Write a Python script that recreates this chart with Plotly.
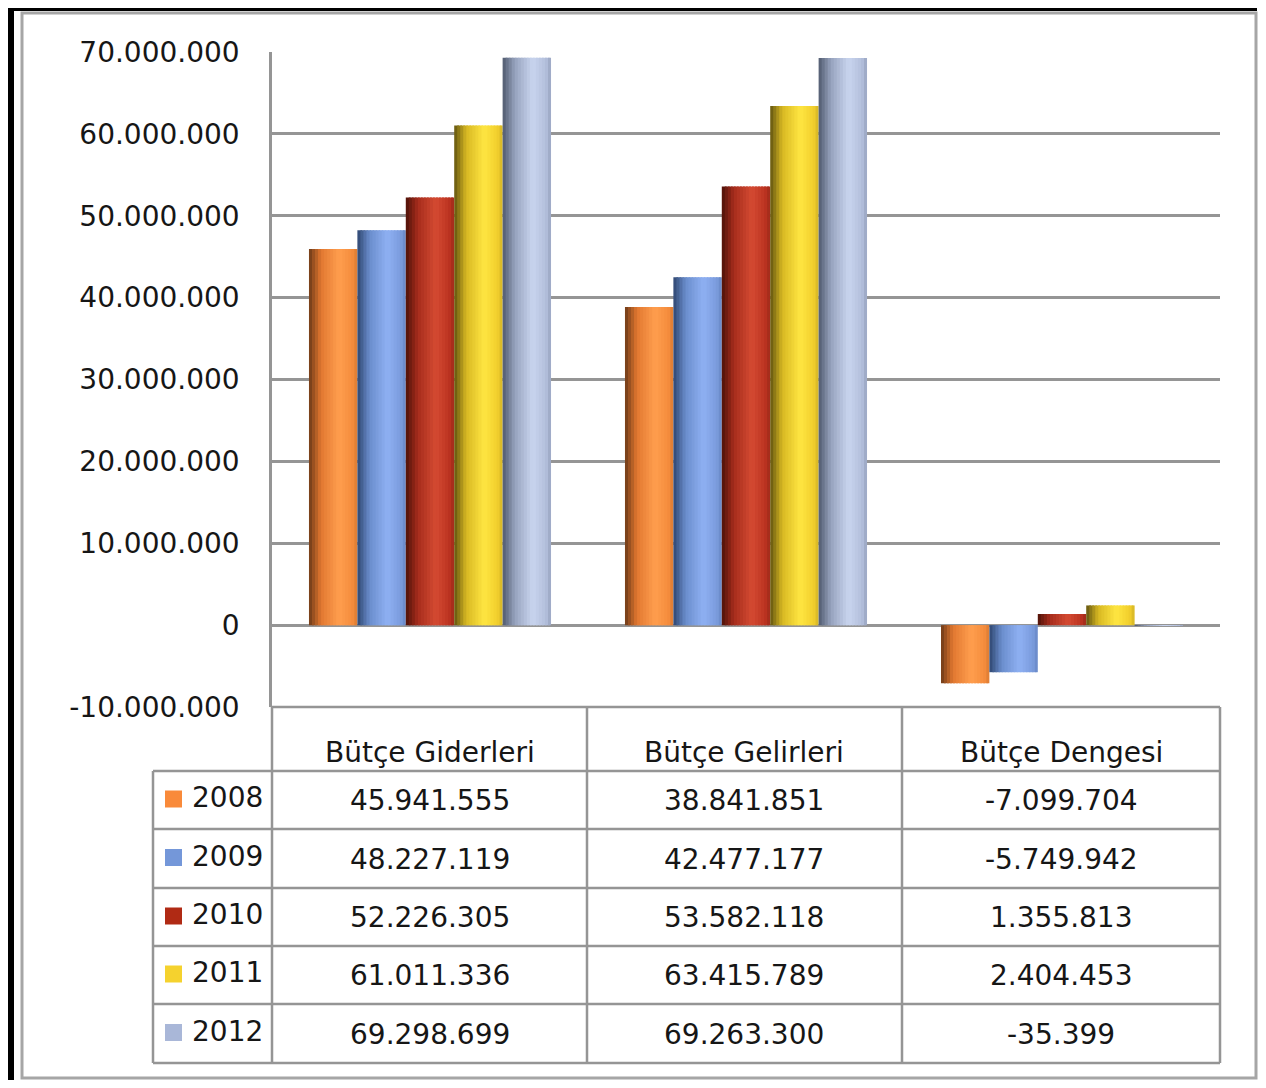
import plotly.graph_objects as go

# ---------------- data ----------------
categories = ["Bütçe Giderleri", "Bütçe Gelirleri", "Bütçe Dengesi"]
years = ["2008", "2009", "2010", "2011", "2012"]
v2008 = [45941555, 38841851, -7099704]
v2009 = [48227119, 42477177, -5749942]
v2010 = [52226305, 53582118, 1355813]
v2011 = [61011336, 63415789, 2404453]
v2012 = [69298699, 69263300, -35399]
series = [v2008, v2009, v2010, v2011, v2012]
tick_vals = [-10000000, 0, 10000000, 20000000, 30000000, 40000000, 50000000, 60000000, 70000000]
tick_text = ["-10.000.000", "0", "10.000.000", "20.000.000", "30.000.000",
             "40.000.000", "50.000.000", "60.000.000", "70.000.000"]

# ---------------- styles ----------------
OFF = 8                      # browser body margin
W, H = 1266 - 2 * OFF, 1088 - 2 * OFF
FONT = "DejaVu Sans"
FS = 28
TXT = "#161616"
GRID = "#959595"
swatch = ["#F98A3A", "#7497D9", "#B02A14", "#F5D22E", "#A9B7D8"]
grads = [
    [(0.0, "#6e3a18"), (0.25, "#e27830"), (0.62, "#ff9e4e"), (0.9, "#f58c3c"), (1.0, "#d97a34")],
    [(0.0, "#2e4670"), (0.25, "#6a8dcc"), (0.62, "#8fb1f3"), (0.9, "#7a9bdc"), (1.0, "#6787c4")],
    [(0.0, "#4e1208"), (0.25, "#a62c1c"), (0.62, "#d44a32"), (0.9, "#bb3320"), (1.0, "#9e2a1a")],
    [(0.0, "#625510"), (0.25, "#d8b822"), (0.62, "#ffe642"), (0.9, "#f1ce2c"), (1.0, "#d2b426")],
    [(0.0, "#505a6e"), (0.25, "#96a2bd"), (0.62, "#c9d5ef"), (0.9, "#b2bedb"), (1.0, "#98a4c0")],
]


def hex2rgb(h):
    h = h.lstrip("#")
    return [int(h[i:i + 2], 16) for i in (0, 2, 4)]


def interp(stops, t):
    for (t0, c0), (t1, c1) in zip(stops[:-1], stops[1:]):
        if t <= t1:
            f = (t - t0) / (t1 - t0) if t1 > t0 else 0
            a, b = hex2rgb(c0), hex2rgb(c1)
            r = [round(a[j] + (b[j] - a[j]) * f) for j in range(3)]
            return f"rgb({r[0]},{r[1]},{r[2]})"
    return stops[-1][1]


def fx(x):
    return (x - OFF) / W


def fy(y):
    return 1 - (y - OFF) / H


PL, PR, PT, PB = 272, 1220, 52, 707

fig = go.Figure()

xs = list(range(len(categories)))
group = 0.766
bw = group / len(years)
N = 16
for i, vals in enumerate(series):
    for k in range(N):
        t = (k + 0.5) / N
        fig.add_trace(go.Bar(
            x=xs, y=vals,
            offset=-group / 2 + i * bw + k * bw / N,
            width=bw / N * (1.6 if k < N - 1 else 1.0),
            marker=dict(color=interp(grads[i], t), line=dict(width=0)),
            showlegend=False, hoverinfo="skip",
        ))

fig.update_layout(
    width=W, height=H, autosize=False,
    margin=dict(l=0, r=0, t=0, b=0, pad=0, autoexpand=False),
    paper_bgcolor="white", plot_bgcolor="white",
    barmode="overlay",
    font=dict(family=FONT, size=FS, color=TXT),
    xaxis=dict(domain=[fx(PL), fx(PR)], range=[-0.5, 2.5], showticklabels=False,
               showgrid=False, zeroline=False, showline=False, fixedrange=True, automargin=False),
    yaxis=dict(domain=[fy(PB), fy(PT)], range=[-10000000, 70000000],
               tickvals=tick_vals, ticktext=tick_text, ticklabelstandoff=24,
               tickfont=dict(family=FONT, size=FS, color=TXT), automargin=False,
               showgrid=True, gridcolor=GRID, gridwidth=2.5,
               zeroline=True, zerolinecolor=GRID, zerolinewidth=2.5,
               showline=True, linecolor=GRID, linewidth=2.5, fixedrange=True),
)

shapes = []
shapes.append(dict(type="rect", xref="paper", yref="paper", x0=fx(OFF), x1=fx(14), y0=fy(H + OFF), y1=fy(OFF),
                   fillcolor="black", line=dict(width=0), layer="above"))
shapes.append(dict(type="rect", xref="paper", yref="paper", x0=fx(OFF), x1=fx(1257), y0=fy(OFF + 3), y1=fy(OFF),
                   fillcolor="black", line=dict(width=0), layer="above"))
shapes.append(dict(type="rect", xref="paper", yref="paper", x0=fx(22), x1=fx(1256), y0=fy(1078), y1=fy(13),
                   line=dict(color="#a6a6a6", width=3), layer="above"))


def hline(x0, x1, y):
    shapes.append(dict(type="line", xref="paper", yref="paper", x0=fx(x0), x1=fx(x1), y0=fy(y), y1=fy(y),
                       line=dict(color=GRID, width=2.5), layer="above"))


def vline(x, y0, y1):
    shapes.append(dict(type="line", xref="paper", yref="paper", x0=fx(x), x1=fx(x), y0=fy(y0), y1=fy(y1),
                       line=dict(color=GRID, width=2.5), layer="above"))


row_lines = [771, 829, 888, 946, 1004, 1063]
col_lines = [272, 587, 902, 1220]
hline(272, 1220, 707)
for y in row_lines:
    hline(153, 1220, y)
for x in col_lines:
    vline(x, 707, 1063)
vline(153, 771, 1063)

annotations = []
col_centers = [(col_lines[j] + col_lines[j + 1]) / 2 for j in range(3)]
for j, c in enumerate(categories):
    annotations.append(dict(xref="paper", yref="paper", x=fx(col_centers[j]), y=fy(752), text=c,
                            showarrow=False, xanchor="center", yanchor="middle",
                            font=dict(family=FONT, size=FS, color=TXT)))


def fmt(v):
    return f"{v:,}".replace(",", ".")


for i, (yr, vals) in enumerate(zip(years, series)):
    yc = (row_lines[i] + row_lines[i + 1]) / 2 + 0.5
    for j, v in enumerate(vals):
        annotations.append(dict(xref="paper", yref="paper", x=fx(col_centers[j]), y=fy(yc), text=fmt(v),
                                showarrow=False, xanchor="center", yanchor="middle",
                                font=dict(family=FONT, size=FS, color=TXT)))
    annotations.append(dict(xref="paper", yref="paper", x=fx(190), y=fy(yc - 3), text=yr,
                            showarrow=False, xanchor="left", yanchor="middle",
                            font=dict(family=FONT, size=FS, color=TXT)))
    shapes.append(dict(type="rect", xref="paper", yref="paper", x0=fx(165), x1=fx(182),
                       y0=fy(yc + 7), y1=fy(yc - 10), fillcolor=swatch[i], line=dict(width=0),
                       layer="above"))

fig.update_layout(shapes=shapes, annotations=annotations)

fig.write_html("out.html")
